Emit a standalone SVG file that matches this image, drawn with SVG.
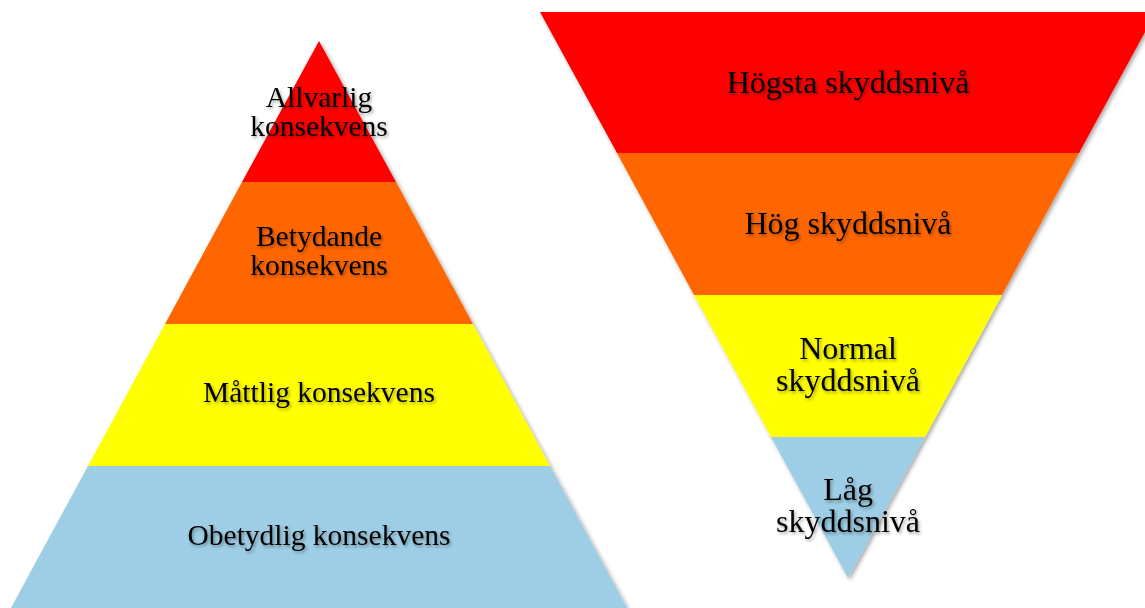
<svg xmlns="http://www.w3.org/2000/svg" width="1145" height="608" viewBox="0 0 1145 608">
<defs>
<filter id="sh" x="-10%" y="-10%" width="130%" height="130%">
<feDropShadow dx="2" dy="2" stdDeviation="2" flood-color="#000" flood-opacity="0.35"/>
</filter>
<filter id="tsh" x="-10%" y="-30%" width="130%" height="180%">
<feDropShadow dx="1.5" dy="2" stdDeviation="1.5" flood-color="#000" flood-opacity="0.35"/>
</filter>
</defs>
<style>
.red{fill:#FF0000}.org{fill:#FF6600}.yel{fill:#FFFF00}.blu{fill:#9DCEE5}
text{font-family:"Liberation Serif","Times New Roman",serif;fill:#000;text-anchor:middle;filter:url(#tsh)}
.l{font-size:29.5px}.r{font-size:32px}
</style>
<rect width="1145" height="608" fill="#fff"/>
<g id="pyramid" filter="url(#sh)">
<g id="l1"><polygon class="red" points="319,41 396,182 242,182"/></g>
<g id="l2"><polygon class="org" points="242,182 396,182 473,324 165,324"/></g>
<g id="l3"><polygon class="yel" points="165,324 473,324 550,466 88,466"/></g>
<g id="l4"><polygon class="blu" points="88,466 550,466 627,608 11,608"/></g>
</g>
<g id="funnel" filter="url(#sh)">
<g id="r1"><polygon class="red" points="540,12 1156,12 1079,153 617,153"/></g>
<g id="r2"><polygon class="org" points="617,153 1079,153 1002,295 694,295"/></g>
<g id="r3"><polygon class="yel" points="694,295 1002,295 925,437 771,437"/></g>
<g id="r4"><polygon class="blu" points="771,437 925,437 848,578"/></g>
</g>
<g id="connectors"></g>
<g id="labels">
<text class="l" x="319" y="107">Allvarlig</text>
<text class="l" x="319" y="136">konsekvens</text>
<text class="l" x="319" y="246">Betydande</text>
<text class="l" x="319" y="275">konsekvens</text>
<text class="l" x="319" y="402">Måttlig konsekvens</text>
<text class="l" x="319" y="545">Obetydlig konsekvens</text>
<text class="r" x="848" y="93">Högsta skyddsnivå</text>
<text class="r" x="848" y="234">Hög skyddsnivå</text>
<text class="r" x="848" y="359">Normal</text>
<text class="r" x="848" y="391">skyddsnivå</text>
<text class="r" x="848" y="500">Låg</text>
<text class="r" x="848" y="532">skyddsnivå</text>
</g>
</svg>
